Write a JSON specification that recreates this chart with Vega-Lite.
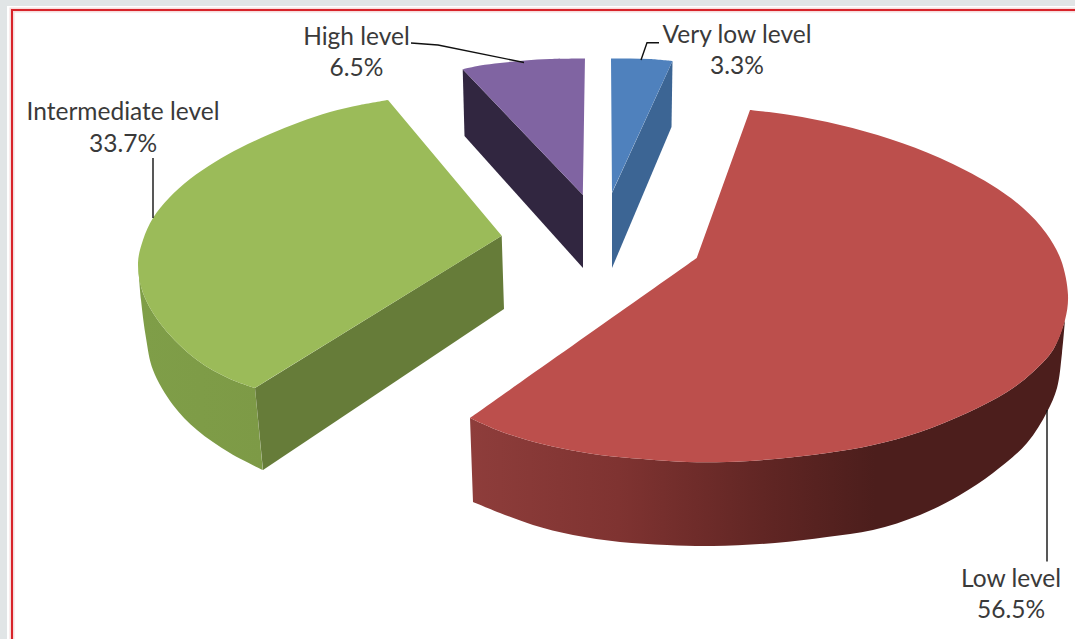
{
"$schema":"https://vega.github.io/schema/vega-lite/v6.json",
"width":1075,"height":639,
"autosize":{"type":"none"},
"padding":{"left":0,"top":0,"right":0,"bottom":0},
"background":"#ffffff",
"config":{"view":{"stroke":null}},
"datasets":{
"curved":[
{"part":"green_curve","i":1,"x":138,"y":263},{"part":"green_curve","i":2,"x":138,"y":263},{"part":"green_curve","i":3,"x":143,"y":293},{"part":"green_curve","i":4,"x":163,"y":327},{"part":"green_curve","i":5,"x":197,"y":360},{"part":"green_curve","i":6,"x":230,"y":379},{"part":"green_curve","i":7,"x":255,"y":388},{"part":"green_curve","i":8,"x":255,"y":388},{"part":"green_curve","i":9,"x":263,"y":470},{"part":"green_curve","i":10,"x":263,"y":470},{"part":"green_curve","i":11,"x":230,"y":453},{"part":"green_curve","i":12,"x":197,"y":430},{"part":"green_curve","i":13,"x":173,"y":405},{"part":"green_curve","i":14,"x":153,"y":370},{"part":"green_curve","i":15,"x":146,"y":338},{"part":"green_curve","i":16,"x":141,"y":300},{"part":"green_curve","i":17,"x":138,"y":263},
{"part":"red_curve","i":1,"x":470,"y":418},{"part":"red_curve","i":2,"x":470,"y":418},{"part":"red_curve","i":3,"x":497,"y":430},{"part":"red_curve","i":4,"x":527,"y":440},{"part":"red_curve","i":5,"x":560,"y":448},{"part":"red_curve","i":6,"x":600,"y":455},{"part":"red_curve","i":7,"x":643,"y":459},{"part":"red_curve","i":8,"x":687,"y":462},{"part":"red_curve","i":9,"x":727,"y":462},{"part":"red_curve","i":10,"x":775,"y":459},{"part":"red_curve","i":11,"x":827,"y":453},{"part":"red_curve","i":12,"x":873,"y":445},{"part":"red_curve","i":13,"x":920,"y":432},{"part":"red_curve","i":14,"x":967,"y":413},{"part":"red_curve","i":15,"x":1007,"y":392},{"part":"red_curve","i":16,"x":1033,"y":372},{"part":"red_curve","i":17,"x":1053,"y":350},{"part":"red_curve","i":18,"x":1065,"y":320},{"part":"red_curve","i":19,"x":1065,"y":320},{"part":"red_curve","i":20,"x":1062,"y":353},{"part":"red_curve","i":21,"x":1057,"y":388},{"part":"red_curve","i":22,"x":1047,"y":412},{"part":"red_curve","i":23,"x":1027,"y":443},{"part":"red_curve","i":24,"x":993,"y":473},{"part":"red_curve","i":25,"x":960,"y":495},{"part":"red_curve","i":26,"x":920,"y":515},{"part":"red_curve","i":27,"x":873,"y":530},{"part":"red_curve","i":28,"x":827,"y":537},{"part":"red_curve","i":29,"x":775,"y":543},{"part":"red_curve","i":30,"x":713,"y":546},{"part":"red_curve","i":31,"x":667,"y":545},{"part":"red_curve","i":32,"x":620,"y":542},{"part":"red_curve","i":33,"x":573,"y":535},{"part":"red_curve","i":34,"x":533,"y":525},{"part":"red_curve","i":35,"x":500,"y":513},{"part":"red_curve","i":36,"x":473,"y":502},{"part":"red_curve","i":37,"x":473,"y":502}
],
"flat":[
{"part":"ground","i":1,"x":0,"y":0},{"part":"ground","i":2,"x":1075,"y":0},{"part":"ground","i":3,"x":1075,"y":6},{"part":"ground","i":4,"x":7,"y":6},{"part":"ground","i":5,"x":7,"y":639},{"part":"ground","i":6,"x":0,"y":639},
{"part":"blue_side","i":1,"x":672.5,"y":61},{"part":"blue_side","i":2,"x":671.5,"y":127},{"part":"blue_side","i":3,"x":612,"y":268},{"part":"blue_side","i":4,"x":612,"y":193},
{"part":"purple_side","i":1,"x":462.7,"y":69.3},{"part":"purple_side","i":2,"x":464.5,"y":136},{"part":"purple_side","i":3,"x":583,"y":268},{"part":"purple_side","i":4,"x":583,"y":195},
{"part":"green_side","i":1,"x":255,"y":388},{"part":"green_side","i":2,"x":501.7,"y":235.7},{"part":"green_side","i":3,"x":504,"y":309},{"part":"green_side","i":4,"x":263,"y":470}
],
"tops":[
{"part":"blue_top","i":1,"x":611,"y":58.5},{"part":"blue_top","i":2,"x":611,"y":58.5},{"part":"blue_top","i":3,"x":630,"y":58.5},{"part":"blue_top","i":4,"x":650,"y":59},{"part":"blue_top","i":5,"x":672.5,"y":61},{"part":"blue_top","i":6,"x":672.5,"y":61},{"part":"blue_top","i":7,"x":612,"y":193},{"part":"blue_top","i":8,"x":612,"y":193},
{"part":"purple_top","i":1,"x":462.7,"y":69.3},{"part":"purple_top","i":2,"x":462.7,"y":69.3},{"part":"purple_top","i":3,"x":480,"y":65.5},{"part":"purple_top","i":4,"x":500,"y":63},{"part":"purple_top","i":5,"x":525,"y":60.5},{"part":"purple_top","i":6,"x":550,"y":59},{"part":"purple_top","i":7,"x":585,"y":58.5},{"part":"purple_top","i":8,"x":585,"y":58.5},{"part":"purple_top","i":9,"x":583,"y":195},{"part":"purple_top","i":10,"x":583,"y":195},
{"part":"green_top","i":1,"x":388,"y":100},{"part":"green_top","i":2,"x":388,"y":100},{"part":"green_top","i":3,"x":360,"y":105},{"part":"green_top","i":4,"x":330,"y":112},{"part":"green_top","i":5,"x":300,"y":122},{"part":"green_top","i":6,"x":270,"y":134},{"part":"green_top","i":7,"x":240,"y":148},{"part":"green_top","i":8,"x":215,"y":162},{"part":"green_top","i":9,"x":190,"y":179},{"part":"green_top","i":10,"x":169,"y":198},{"part":"green_top","i":11,"x":153,"y":218},{"part":"green_top","i":12,"x":143,"y":240},{"part":"green_top","i":13,"x":138,"y":263},{"part":"green_top","i":14,"x":143,"y":293},{"part":"green_top","i":15,"x":163,"y":327},{"part":"green_top","i":16,"x":197,"y":360},{"part":"green_top","i":17,"x":230,"y":379},{"part":"green_top","i":18,"x":255,"y":388},{"part":"green_top","i":19,"x":255,"y":388},{"part":"green_top","i":20,"x":501.7,"y":235.7},{"part":"green_top","i":21,"x":501.7,"y":235.7},
{"part":"red_top","i":1,"x":750,"y":110},{"part":"red_top","i":2,"x":750,"y":110},{"part":"red_top","i":3,"x":790,"y":115},{"part":"red_top","i":4,"x":840,"y":125},{"part":"red_top","i":5,"x":890,"y":139},{"part":"red_top","i":6,"x":940,"y":158},{"part":"red_top","i":7,"x":990,"y":184},{"part":"red_top","i":8,"x":1023,"y":208},{"part":"red_top","i":9,"x":1046,"y":233},{"part":"red_top","i":10,"x":1061,"y":260},{"part":"red_top","i":11,"x":1068,"y":295},{"part":"red_top","i":12,"x":1065,"y":320},{"part":"red_top","i":13,"x":1053,"y":350},{"part":"red_top","i":14,"x":1033,"y":372},{"part":"red_top","i":15,"x":1007,"y":392},{"part":"red_top","i":16,"x":967,"y":413},{"part":"red_top","i":17,"x":920,"y":432},{"part":"red_top","i":18,"x":873,"y":445},{"part":"red_top","i":19,"x":827,"y":453},{"part":"red_top","i":20,"x":775,"y":459},{"part":"red_top","i":21,"x":727,"y":462},{"part":"red_top","i":22,"x":687,"y":462},{"part":"red_top","i":23,"x":643,"y":459},{"part":"red_top","i":24,"x":600,"y":455},{"part":"red_top","i":25,"x":560,"y":448},{"part":"red_top","i":26,"x":527,"y":440},{"part":"red_top","i":27,"x":497,"y":430},{"part":"red_top","i":28,"x":470,"y":418},{"part":"red_top","i":29,"x":470,"y":418},{"part":"red_top","i":30,"x":696.7,"y":258},{"part":"red_top","i":31,"x":696.7,"y":258}
],
"leaders":[
{"level":"High level","i":1,"x":411,"y":43},{"level":"High level","i":2,"x":438,"y":45},{"level":"High level","i":3,"x":524,"y":62.5},
{"level":"Very low level","i":1,"x":659,"y":42.7},{"level":"Very low level","i":2,"x":647,"y":42.7},{"level":"Very low level","i":3,"x":641,"y":60},
{"level":"Intermediate level","i":1,"x":153,"y":158},{"level":"Intermediate level","i":2,"x":153,"y":218},
{"level":"Low level","i":1,"x":1047,"y":410},{"level":"Low level","i":2,"x":1047,"y":561.5}
],
"frame":[{"i":1,"x":12,"y":639},{"i":2,"x":12,"y":10},{"i":3,"x":1075,"y":10}],
"labels":[
{"text":"Very low level","x":737,"y":36},{"text":"3.3%","x":737,"y":67},
{"text":"Low level","x":1011,"y":580},{"text":"56.5%","x":1011,"y":611},
{"text":"Intermediate level","x":123,"y":113},{"text":"33.7%","x":123,"y":145},
{"text":"High level","x":356.5,"y":38},{"text":"6.5%","x":356.5,"y":69}
]
},
"encoding":{
"x":{"field":"x","type":"quantitative","scale":{"domain":[0,1075],"nice":false,"zero":false},"axis":null},
"y":{"field":"y","type":"quantitative","scale":{"domain":[639,0],"nice":false,"zero":false},"axis":null}
},
"layer":[
{"data":{"name":"curved"},"transform":[{"filter":"datum.part=='green_curve'"}],
"mark":{"type":"line","interpolate":"catmull-rom","strokeWidth":0,"fill":{"gradient":"linear","x1":0,"y1":0,"x2":1,"y2":0,"stops":[{"offset":0,"color":"#7f9e48"},{"offset":1,"color":"#7d9a46"}]}},
"encoding":{"order":{"field":"i","type":"quantitative"}}},
{"data":{"name":"curved"},"transform":[{"filter":"datum.part=='red_curve'"}],
"mark":{"type":"line","interpolate":"catmull-rom","strokeWidth":0,"fill":{"gradient":"linear","x1":0,"y1":0,"x2":1,"y2":0,"stops":[{"offset":0,"color":"#8e3d3b"},{"offset":0.25,"color":"#7f3331"},{"offset":0.51,"color":"#5f2523"},{"offset":0.68,"color":"#4c1e1c"},{"offset":1,"color":"#4c1e1c"}]}},
"encoding":{"order":{"field":"i","type":"quantitative"}}},
{"data":{"name":"flat"},
"mark":{"type":"line","strokeWidth":0},
"encoding":{"order":{"field":"i","type":"quantitative"},
"fill":{"field":"part","type":"nominal","legend":null,"scale":{"domain":["ground","blue_side","purple_side","green_side","blue_top","purple_top","green_top","red_top"],"range":["#e1e5e6","#3c6594","#312640","#667c39","#4f81bd","#8064a2","#9bbb59","#bc4f4c"]}},
"detail":{"field":"part"}}},
{"data":{"name":"tops"},
"mark":{"type":"line","interpolate":"catmull-rom","strokeWidth":0},
"encoding":{"order":{"field":"i","type":"quantitative"},
"fill":{"field":"part","type":"nominal","legend":null,"scale":{"domain":["ground","blue_side","purple_side","green_side","blue_top","purple_top","green_top","red_top"],"range":["#e1e5e6","#3c6594","#312640","#667c39","#4f81bd","#8064a2","#9bbb59","#bc4f4c"]}},
"detail":{"field":"part"}}},
{"data":{"name":"frame"},"mark":{"type":"line","stroke":"#f6dcdc","strokeWidth":5},"encoding":{"order":{"field":"i","type":"quantitative"}}},
{"data":{"name":"frame"},"mark":{"type":"line","stroke":"#d8232a","strokeWidth":2},"encoding":{"order":{"field":"i","type":"quantitative"}}},
{"data":{"name":"leaders"},"mark":{"type":"line","stroke":"#111111","strokeWidth":1.4},"encoding":{"order":{"field":"i","type":"quantitative"},"detail":{"field":"level"}}},
{"data":{"name":"labels"},"mark":{"type":"text","font":"Lato","fontSize":24.5,"color":"#3a3a3a","align":"center","baseline":"middle"},"encoding":{"text":{"field":"text"}}}
]
}
